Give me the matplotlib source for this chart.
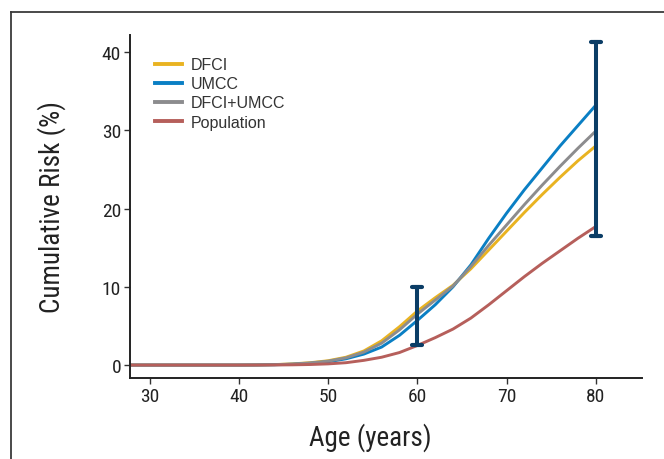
import numpy as np
import matplotlib.pyplot as plt
from matplotlib.lines import Line2D

# -------------------------------------------------------------------------
# DATA
# -------------------------------------------------------------------------
age = [27.8, 30, 35, 40, 42, 44, 46, 48, 50, 52, 54, 56, 58, 60, 62, 64,
       66, 68, 70, 72, 74, 76, 78, 80]

dfci = [0, 0, 0, 0, 0.02, 0.06, 0.15, 0.3, 0.55, 1.0, 1.8, 3.1, 4.9, 6.9,
        8.6, 10.2, 12.3, 14.7, 17.1, 19.5, 21.8, 24.0, 26.1, 28.0]
umcc = [0, 0, 0, 0, 0.01, 0.04, 0.1, 0.22, 0.42, 0.8, 1.4, 2.3, 3.8, 5.7,
        7.7, 10.0, 12.8, 16.2, 19.4, 22.4, 25.2, 28.0, 30.6, 33.2]
dfci_umcc = [0, 0, 0, 0, 0.02, 0.05, 0.13, 0.27, 0.5, 0.92, 1.65, 2.8, 4.5,
             6.5, 8.3, 10.1, 12.6, 15.3, 17.9, 20.5, 23.0, 25.4, 27.7, 29.9]
population = [0, 0, 0, 0, 0, 0.01, 0.03, 0.07, 0.15, 0.3, 0.6, 1.0, 1.6,
              2.5, 3.5, 4.6, 6.0, 7.7, 9.5, 11.3, 13.0, 14.6, 16.2, 17.7]

# confidence intervals
ci_age = [60, 80]
ci_low = [2.5, 16.5]
ci_high = [10.0, 41.3]

labels = ["DFCI", "UMCC", "DFCI+UMCC", "Population"]
colors = ["#e9b321", "#0a7fc4", "#8c8c8e", "#b65f5b"]

xticks = [30, 40, 50, 60, 70, 80]
yticks = [0, 10, 20, 30, 40]

# -------------------------------------------------------------------------
# PLOT
# -------------------------------------------------------------------------
plt.rcParams["font.family"] = ["Roboto Condensed", "DejaVu Sans"]

fig = plt.figure(figsize=(6.64, 4.6), dpi=100)
ax = fig.add_axes([0.196, 0.176, 0.771, 0.746])

series = [dfci, umcc, dfci_umcc, population]
handles = []
for vals, lab, col in zip(series, labels, colors):
    h, = ax.plot(age, vals, color=col, lw=2.1, label=lab,
                 solid_joinstyle="round")
    handles.append(h)

# error bars
bar_col = "#0b3d66"
for a, lo, hi in zip(ci_age, ci_low, ci_high):
    ax.plot([a, a], [lo, hi], color=bar_col, lw=2.9, zorder=5)
    for yv in (lo, hi):
        ax.plot([a - 0.55, a + 0.55], [yv, yv], color=bar_col, lw=3.0,
                solid_capstyle="round", zorder=5)

ax.set_xlim(27.8, 85.2)
ax.set_ylim(-1.66, 42.2)
ax.set_xticks(xticks)
ax.set_yticks(yticks)

for s in ["top", "right"]:
    ax.spines[s].set_visible(False)
for s in ["left", "bottom"]:
    ax.spines[s].set_linewidth(1.4)
    ax.spines[s].set_color("#222222")

ax.tick_params(axis="both", length=4.5, width=1.0, color="#333333",
               labelsize=14, labelcolor="#222222", pad=2)

ax.set_xlabel("Age (years)", fontsize=19.5, color="#222222")
ax.xaxis.set_label_coords(0.47, -0.13)
ax.set_ylabel("Cumulative Risk (%)", fontsize=19.5, color="#222222",
              labelpad=26)

leg = ax.legend(handles=handles, loc="upper left",
                bbox_to_anchor=(0.049, 0.935), borderaxespad=0, borderpad=0,
                frameon=False, handlelength=1.7, handletextpad=0.5,
                labelspacing=0.26,
                prop={"family": "Liberation Sans", "size": 11.5})
for t in leg.get_texts():
    t.set_color("#333333")
for l in leg.get_lines():
    l.set_linewidth(2.8)

# outer frame (top and left edges of the figure panel)
fig.add_artist(Line2D([11 / 664, 1.0], [1 - 13 / 460, 1 - 13 / 460],
                      transform=fig.transFigure, color="#3a3a3a", lw=1.3))
fig.add_artist(Line2D([11 / 664, 11 / 664], [0.0, 1 - 13 / 460],
                      transform=fig.transFigure, color="#3a3a3a", lw=1.3))

fig.savefig("out.png", dpi=100)
